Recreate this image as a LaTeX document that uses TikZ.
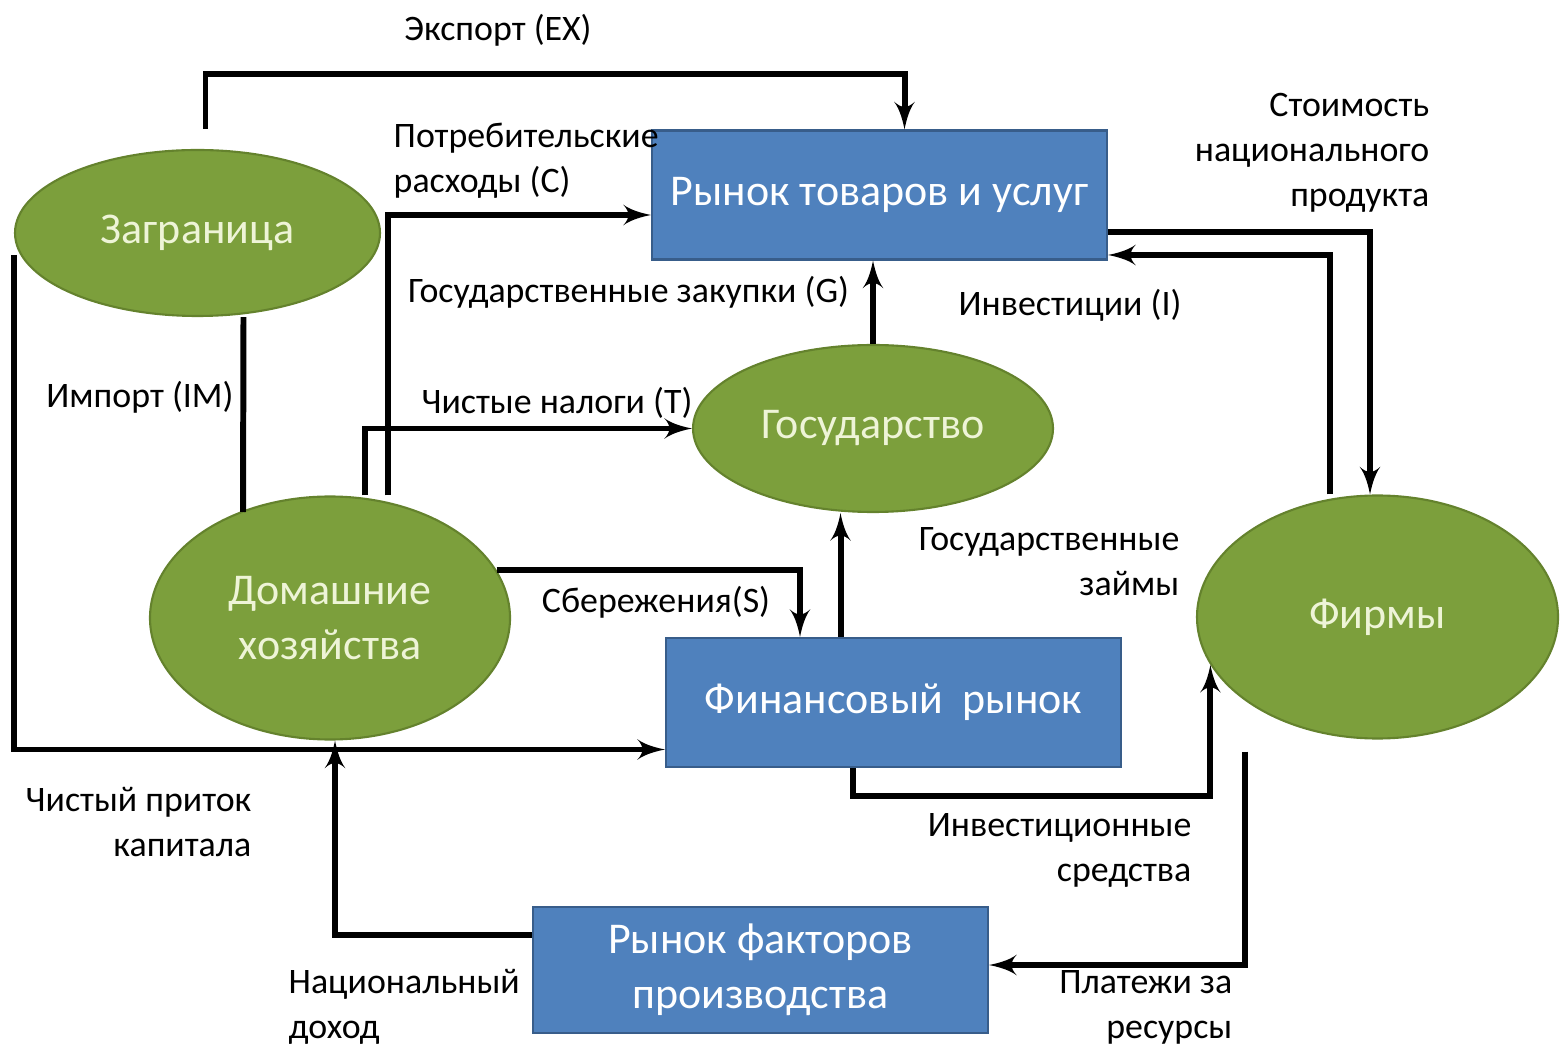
\documentclass[tikz,border=0pt]{standalone}
\usepackage{fontspec}
\setmainfont{Carlito}
\usetikzlibrary{shapes,arrows}
\definecolor{leaf}{RGB}{124,159,60}
\definecolor{leafdark}{RGB}{100,130,45}
\definecolor{sea}{RGB}{79,129,189}
\definecolor{seadark}{RGB}{56,93,138}
\definecolor{pale}{RGB}{238,244,215}
\tikzstyle{market} = [rectangle, draw=seadark, fill=sea, text=white, line width=0.6pt,
    minimum width=4.55cm, minimum height=1.29cm, align=center,
    font=\fontsize{12.5}{15.5}\selectfont]
\tikzstyle{agent} = [ellipse, draw=leafdark, fill=leaf, text=pale, line width=0.6pt,
    inner sep=0pt, minimum width=3.6cm, align=center,
    font=\fontsize{12.5}{15.5}\selectfont]
\tikzstyle{line} = [draw, line width=1.7pt, -latex']
\tikzstyle{plain} = [draw, line width=1.7pt]
\tikzstyle{note} = [inner sep=0pt, font=\fontsize{10.2}{12.8}\selectfont]

\begin{document}
\begin{tikzpicture}
		\useasboundingbox (0,0) rectangle (15.6,-10.49);
		% markets
		\node [market] (goods) at (8.795,-1.95) {Рынок товаров и услуг};
		\node [market] (fin) at (8.935,-7.025) {Финансовый~~рынок};
		\node [market, minimum height=1.26cm] (factors) at (7.605,-9.70) {Рынок факторов\\производства};
		% agents
		\node [agent, minimum width=3.65cm, minimum height=1.66cm] (abroad) at (1.975,-2.33) {Заграница};
		\node [agent, minimum height=1.67cm] (state) at (8.73,-4.285) {Государство};
		\node [agent, minimum height=2.43cm] (home) at (3.30,-6.18) {Домашние\\хозяйства};
		\node [agent, minimum width=3.61cm, minimum height=2.43cm] (firms) at (13.775,-6.17) {Фирмы};

		% flows
		\path [line] ([shift={(0.08,0.2)}]abroad.north) -- ++(0,0.55) -| ([xshift=0.25cm]goods.north);
		\path [plain] ([xshift=0.46cm]abroad.south) -- ([shift={(-0.87,1.06)}]home.center);
		\path [line] ([yshift=-0.22cm]abroad.west) |- ([yshift=-0.47cm]fin.west);
		\path [line] ([xshift=0.58cm]home.north) |- ([yshift=-0.2cm]goods.west);
		\path [line] ([xshift=0.35cm]home.north) |- (state.west);
		\path [line] (home.16) -| ([xshift=-0.935cm]fin.north);
		\path [line] ([xshift=-0.53cm]fin.north) -- ([xshift=-0.53cm]fin.north |- state.south);
		\path [line] (state.north) -- (state.north |- goods.south);
		\path [line] ([yshift=-0.37cm]goods.east) -| ([xshift=-0.075cm]firms.north);
		\path [line] ([xshift=-0.475cm]firms.north) |- ([yshift=-0.6cm]goods.east);
		\path [line] ([xshift=-0.41cm]fin.south) -- ++(0,-0.28) -| (firms.196);
		\path [line] ([shift={(-1.33,-0.12)}]firms.south) |- ([yshift=0.05cm]factors.east);
		\path [line] ([yshift=0.35cm]factors.west) -| ([xshift=0.05cm]home.south);

		% labels
		\node [note] (lex) at (4.98,-0.30) {Экспорт (EX)};
		\node [note, anchor=west, align=left] (lcons) at (3.93,-1.61) {Потребительские\\расходы (C)};
		\node [note] (lgov) at (6.285,-2.92) {Государственные закупки (G)};
		\node [note] (limp) at (1.40,-3.97) {Импорт (IM)};
		\node [note] (ltax) at (5.57,-4.03) {Чистые налоги (T)};
		\node [note] (linv) at (10.70,-3.05) {Инвестиции (I)};
		\node [note, anchor=east, align=right] (lval) at (14.30,-1.53) {Стоимость\\национального\\продукта};
		\node [note, anchor=east, align=right] (lloan) at (11.80,-5.62) {Государственные\\займы};
		\node [note] (lsav) at (6.56,-6.02) {Сбережения(S)};
		\node [note, anchor=east, align=right] (lcap) at (2.52,-8.22) {Чистый приток\\капитала};
		\node [note, anchor=east, align=right] (lfund) at (11.92,-8.50) {Инвестиционные\\средства};
		\node [note, anchor=west, align=left] (lnat) at (2.88,-10.07) {Национальный\\доход};
		\node [note, anchor=east, align=right] (lpay) at (12.33,-10.07) {Платежи за\\ресурсы};
	\end{tikzpicture}
\end{document}
